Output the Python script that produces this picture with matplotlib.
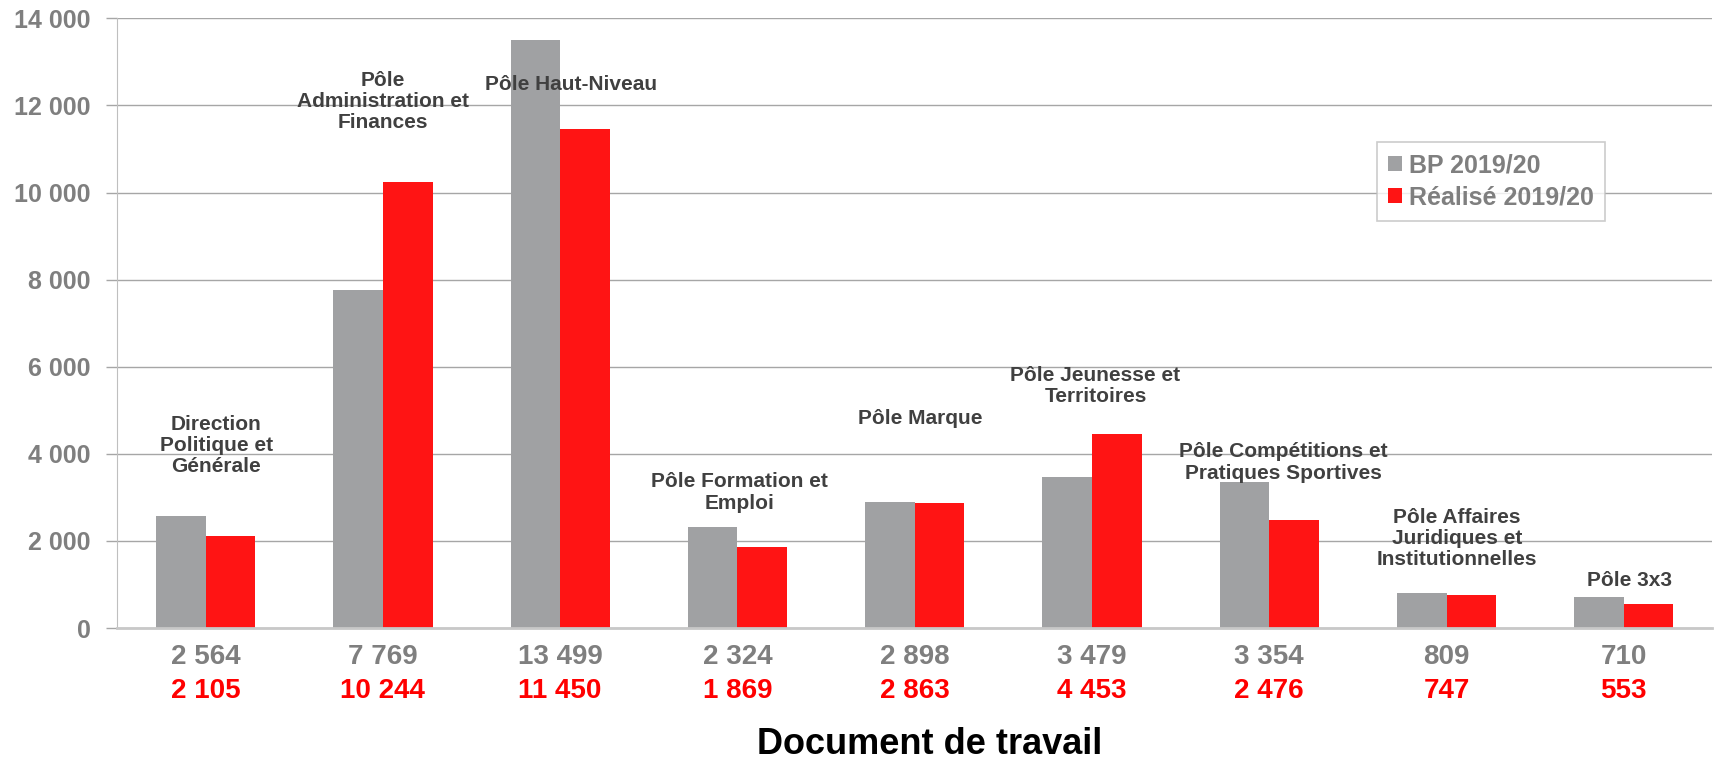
import matplotlib.pyplot as plt
import numpy as np

# %% Donnees
poles = ["Direction\nPolitique et\nGénérale",
         "Pôle\nAdministration et\nFinances",
         "Pôle Haut-Niveau",
         "Pôle Formation et\nEmploi",
         "Pôle Marque",
         "Pôle Jeunesse et\nTerritoires",
         "Pôle Compétitions et\nPratiques Sportives",
         "Pôle Affaires\nJuridiques et\nInstitutionnelles",
         "Pôle 3x3"]
bp = np.array([2564, 7769, 13499, 2324, 2898, 3479, 3354, 809, 710])
realise = np.array([2105, 10244, 11450, 1869, 2863, 4453, 2476, 747, 553])
series_names = ["BP 2019/20", "Réalisé 2019/20"]

# position verticale (centre) des etiquettes de categorie, en unites de l'axe y
label_y = [4190, 12090, 12490, 3110, 4800, 5550, 3800, 2050, 1080]
label_dx = [0.06, 0.0, 0.06, 0.01, 0.03, 0.02, 0.08, 0.06, 0.03]

gris = "#a0a1a3"
rouge = "#ff1414"

def fmt(v):
    return f"{v:,}".replace(",", " ")

plt.rcParams['font.family'] = ['Liberation Sans', 'DejaVu Sans']
plt.rcParams['font.weight'] = 'bold'

fig = plt.figure(figsize=(17.21, 7.64), dpi=100)
ax = fig.add_axes([0.068, 0.178, 0.927, 0.798])

x = np.arange(len(poles))
w = 0.28
ax.bar(x - w/2, bp, width=w, color=gris, label=series_names[0], zorder=2)
ax.bar(x + w/2, realise, width=w, color=rouge, label=series_names[1], zorder=2)

ax.set_xlim(-0.5, len(poles) - 0.5)
ax.set_ylim(0, 14000)
ax.set_yticks(np.arange(0, 14001, 2000))
ax.set_yticklabels([fmt(v) for v in range(0, 14001, 2000)])
ax.tick_params(axis='y', length=8, width=1, color="#a6a6a6", pad=11,
               labelsize=18, labelcolor="#7f7f7f")
ax.set_xticks([])
ax.grid(axis='y', color="#a6a6a6", linewidth=1, zorder=0)
ax.set_axisbelow(True)

for s in ['top', 'right']:
    ax.spines[s].set_visible(False)
ax.spines['left'].set_color("#bfbfbf")
ax.spines['bottom'].set_color("#c8c8c8")
ax.spines['bottom'].set_linewidth(2)
ax.spines['bottom'].set_zorder(3)

# etiquettes de categorie
for k in range(len(poles)):
    ax.text(x[k] + label_dx[k], label_y[k], poles[k], ha='center', va='center',
            fontsize=15, color="#404040", linespacing=1.15, zorder=4)

# valeurs sous l'axe
trans = ax.get_xaxis_transform()
for k in range(len(poles)):
    ax.text(x[k], -0.0475, fmt(bp[k]), transform=trans, ha='center', va='center',
            fontsize=20, color="#7f7f7f")
    ax.text(x[k], -0.103, fmt(realise[k]), transform=trans, ha='center', va='center',
            fontsize=20, color="#ff0000")

fig.text(0.540, 0.002, "Document de travail", ha='center', va='bottom',
         fontsize=26, color="black")

leg = ax.legend(loc='upper left', bbox_to_anchor=(0.800, 0.814),
                bbox_transform=fig.transFigure, fontsize=18, frameon=True,
                fancybox=False, edgecolor="#bfbfbf", handlelength=0.55,
                handleheight=0.55, handletextpad=0.3, labelspacing=0.32,
                borderpad=0.45, borderaxespad=0)
leg.get_frame().set_linewidth(1.2)
for t in leg.get_texts():
    t.set_color("#7f7f7f")

plt.savefig("out.png", dpi=100)
